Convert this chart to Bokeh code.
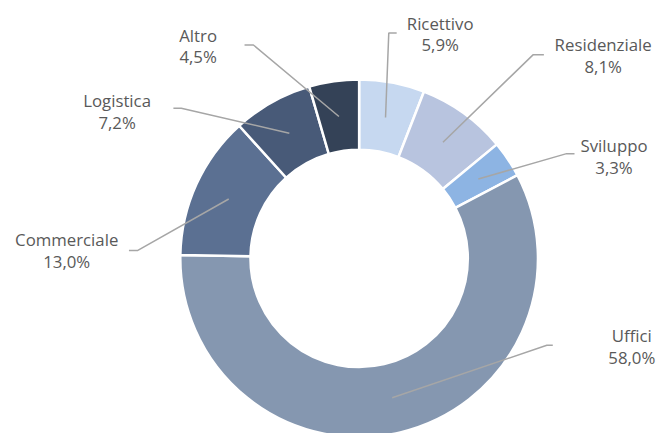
import math
from bokeh.plotting import figure
from bokeh.models import Range1d, ColumnDataSource
from bokeh.core.properties import value
from bokeh.embed import file_html
from bokeh.resources import INLINE

# ---- data ----
categories = ["Ricettivo", "Residenziale", "Sviluppo", "Uffici", "Commerciale", "Logistica", "Altro"]
shares = [5.9, 8.1, 3.3, 58.0, 13.0, 7.2, 4.5]
colors = ["#c6d8f0", "#b8c4df", "#8db4e3", "#8597b0", "#5b7092", "#485a78", "#344257"]

# ---- layout (reference pixel coords; y measured from top) ----
W, H = 665, 441
PW, PH = 657, 433
scale = PW / W
cx, cy = 363, 261
r_in, r_out, r_anchor = 110, 181, 145
label_x = [445, 610, 621, 639, 67, 118, 200]
label_y = [23, 45, 147, 339, 242, 101, 35]
elbow_x = [393, 539, 573, 553, 139, 183, 256]
end_x = [401, 550, 581, 559, 130, 175, 247]
elbow_y = [33, 55, 155, 349, 253, 109, 45]

def fy(y):
    return H - y

p = figure(width=PW, height=PH, output_backend="svg", toolbar_location=None,
           x_range=Range1d(0, W), y_range=Range1d(H - PH / scale, H), min_border=0)
p.axis.visible = False
p.grid.visible = False
p.outline_line_color = None
p.background_fill_color = "white"

starts, ends, mids = [], [], []
cum = 0.0
total = sum(shares)
for s in shares:
    a0 = math.pi / 2 - cum / total * 2 * math.pi
    cum += s
    a1 = math.pi / 2 - cum / total * 2 * math.pi
    starts.append(a0)
    ends.append(a1)
    mids.append((a0 + a1) / 2)

src = ColumnDataSource(dict(x=[cx] * len(shares), y=[fy(cy)] * len(shares),
                            start=starts, end=ends, color=colors))
p.annular_wedge(x="x", y="y", inner_radius=r_in, outer_radius=r_out,
                start_angle="start", end_angle="end", direction="clock",
                fill_color="color", line_color="white", line_width=2.5, source=src)

xs, ys = [], []
for i, m in enumerate(mids):
    ax = cx + r_anchor * math.cos(m)
    ay = fy(cy) + r_anchor * math.sin(m)
    xs.append([ax, elbow_x[i], end_x[i]])
    ys.append([ay, fy(elbow_y[i]), fy(elbow_y[i])])
p.multi_line(xs=xs, ys=ys, line_color="#a6a6a6", line_width=1.5)

fs = f"{17 * scale:.1f}px"
pct = [f"{v:.1f}".replace(".", ",") + "%" for v in shares]
p.text(x=label_x, y=[fy(v) for v in label_y], text=categories,
       text_font=value("Open Sans"), text_font_size=fs, text_color="#595959",
       text_align="center", text_baseline="middle")
p.text(x=label_x, y=[fy(v + 22) for v in label_y], text=pct,
       text_font=value("Open Sans"), text_font_size=fs, text_color="#595959",
       text_align="center", text_baseline="middle")

open("out.html", "w").write(file_html(p, INLINE))
